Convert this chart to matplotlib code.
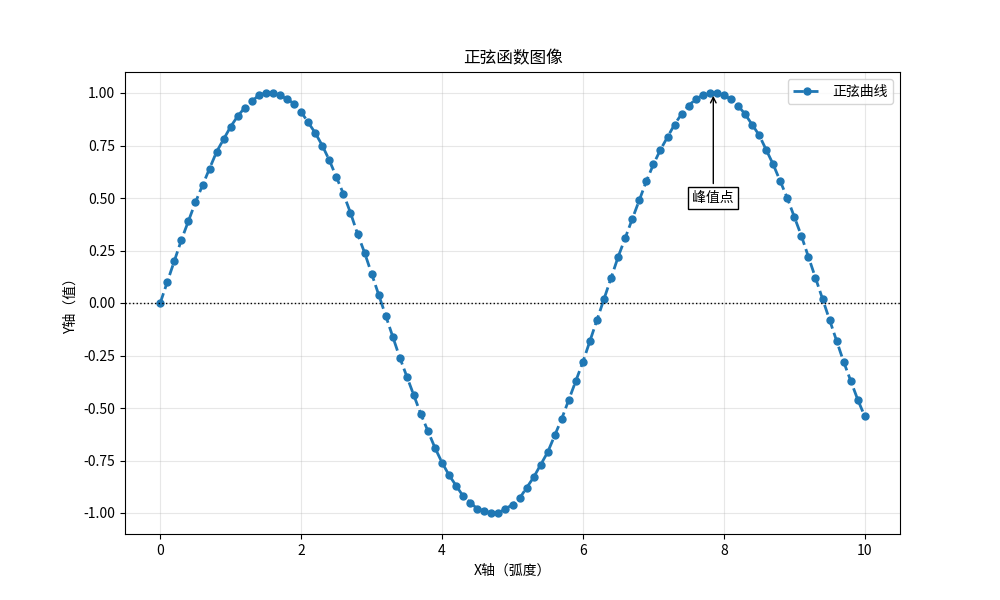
import numpy as np
import matplotlib
matplotlib.use("Agg")
import matplotlib.pyplot as plt

plt.rcParams['font.family'] = ['Noto Sans CJK SC', 'DejaVu Sans']
plt.rcParams['axes.unicode_minus'] = False

y = [0.00,0.10,0.20,0.30,0.39,0.48,0.56,0.64,0.72,0.78,0.84,0.89,0.93,0.96,0.99,1.00,1.00,0.99,0.97,0.95,
     0.91,0.86,0.81,0.75,0.68,0.60,0.52,0.43,0.33,0.24,0.14,0.04,-0.06,-0.16,-0.26,-0.35,-0.44,-0.53,-0.61,-0.69,
     -0.76,-0.82,-0.87,-0.92,-0.95,-0.98,-0.99,-1.00,-1.00,-0.98,-0.96,-0.93,-0.88,-0.83,-0.77,-0.71,-0.63,-0.55,-0.46,-0.37,
     -0.28,-0.18,-0.08,0.02,0.12,0.22,0.31,0.40,0.49,0.58,0.66,0.73,0.79,0.85,0.90,0.94,0.97,0.99,1.00,1.00,
     0.99,0.97,0.94,0.90,0.85,0.80,0.73,0.66,0.58,0.50,0.41,0.32,0.22,0.12,0.02,-0.08,-0.18,-0.28,-0.37,-0.46,-0.54]
x = np.linspace(0, 10, len(y))

fig, ax = plt.subplots(figsize=(10, 6), dpi=100)
ax.plot(x, y, linestyle='--', marker='o', markersize=5, linewidth=2, color='#1f77b4', label='正弦曲线')
ax.axhline(0, color='black', linestyle=':', linewidth=1)
ax.grid(True, alpha=0.3)
ax.annotate('峰值点', xy=(7.85, 1.0), xytext=(7.85, 0.5), ha='center', va='center',
            arrowprops=dict(arrowstyle='->', color='black'),
            bbox=dict(boxstyle='square', fc='white', ec='black'))
ax.set_title('正弦函数图像')
ax.set_xlabel('X轴（弧度）')
ax.set_ylabel('Y轴（值）')
ax.legend(loc='upper right')
fig.savefig('out.png')
